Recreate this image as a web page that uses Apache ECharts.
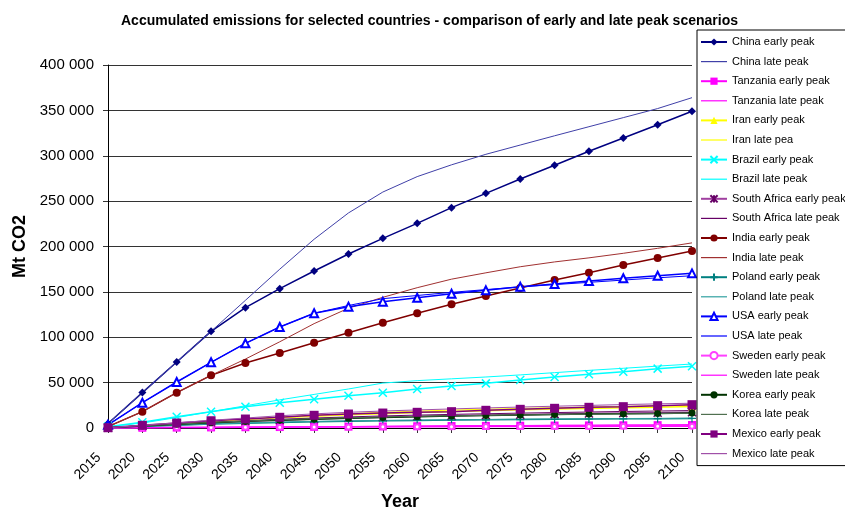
<!DOCTYPE html>
<html>
<head>
<meta charset="utf-8">
<script src="https://cdn.jsdelivr.net/npm/echarts@6/dist/echarts.min.js"></script>
<style>
  html, body { margin: 0; padding: 0; background: #fff; }
  #chart { width: 845px; height: 512px; }
</style>
</head>
<body>
<div id="chart"></div>
<script>
var years = ['2015','2020','2025','2030','2035','2040','2045','2050','2055','2060','2065','2070','2075','2080','2085','2090','2095','2100'];

// accumulated emissions, Mt CO2
var chinaEarly = [5000, 39000, 72700, 106500, 132600, 153500, 173000, 191700, 209000, 225500, 242800, 258600, 274400, 289500, 304900, 319600, 334200, 349000];
var chinaLate = [5000, 39000, 72700, 106500, 140700, 175000, 208000, 237000, 260000, 277000, 290000, 301600, 311800, 322000, 332000, 342000, 352000, 364000];
var tanzaniaEarly = [50, 250, 450, 650, 850, 1050, 1280, 1500, 1720, 1950, 2150, 2350, 2520, 2700, 2850, 3000, 3150, 3300];
var tanzaniaLate = [50, 260, 480, 700, 920, 1150, 1380, 1600, 1830, 2050, 2260, 2460, 2650, 2830, 3000, 3160, 3320, 3480];
var iranEarly = [300, 2600, 5000, 7300, 9300, 11200, 13000, 14500, 15800, 17000, 18100, 19100, 20000, 20800, 21600, 22300, 23000, 23600];
var iranLate = [300, 2600, 5100, 7600, 9900, 12000, 14000, 15800, 17300, 18600, 19700, 20700, 21600, 22400, 23100, 23800, 24400, 25000];
var brazilEarly = [1500, 6300, 12500, 18000, 23500, 27900, 31600, 35600, 38900, 43000, 46300, 49200, 52900, 56200, 59200, 62000, 65400, 68000];
var brazilLate = [1500, 5500, 11500, 18000, 24500, 31000, 37000, 43000, 49500, 52200, 54200, 56200, 58500, 61000, 63500, 65800, 68200, 70500];
var southAfricaEarly = [250, 2200, 4100, 5900, 7400, 8800, 10000, 11000, 11900, 12700, 13400, 14100, 14700, 15300, 15900, 16400, 16900, 17400];
var southAfricaLate = [250, 2200, 4200, 6200, 8000, 9600, 11000, 12200, 13300, 14200, 15000, 15700, 16400, 17000, 17600, 18200, 18700, 19200];
var indiaEarly = [1500, 18000, 38900, 58000, 71600, 82600, 94000, 105000, 116000, 126400, 136300, 145400, 154300, 163000, 171000, 179600, 187300, 195000];
var indiaLate = [1500, 18000, 38900, 58000, 76000, 95000, 115000, 132000, 144000, 154600, 164000, 171000, 177700, 183000, 187500, 192500, 198000, 204000];
var polandEarly = [200, 1700, 3100, 4300, 5300, 6100, 6800, 7400, 7900, 8300, 8700, 9000, 9300, 9600, 9900, 10100, 10300, 10500];
var polandLate = [200, 1700, 3200, 4500, 5600, 6500, 7200, 7800, 8300, 8700, 9100, 9400, 9700, 9950, 10200, 10400, 10600, 10800];
var usaEarly = [3500, 27900, 50700, 72400, 93300, 111300, 126400, 133700, 139200, 143600, 148000, 151700, 155700, 158700, 162000, 165000, 167800, 170400];
var usaLate = [3500, 27900, 50700, 72400, 93300, 111300, 126400, 135000, 142500, 146000, 149500, 152500, 155500, 158000, 160500, 163000, 165500, 167800];
var swedenEarly = [50, 300, 500, 650, 800, 920, 1050, 1150, 1250, 1350, 1440, 1520, 1600, 1680, 1750, 1820, 1890, 1950];
var swedenLate = [50, 300, 520, 700, 860, 1000, 1130, 1250, 1360, 1460, 1550, 1640, 1720, 1800, 1870, 1940, 2010, 2070];
var koreaEarly = [300, 2300, 4200, 5900, 7300, 8600, 9700, 10700, 11600, 12400, 13100, 13700, 14300, 14800, 15300, 15700, 16100, 16500];
var koreaLate = [300, 2300, 4300, 6100, 7700, 9100, 10300, 11300, 12100, 12800, 13400, 13900, 14400, 14800, 15200, 15600, 15900, 16200];
var mexicoEarly = [300, 3000, 5500, 8000, 9900, 11800, 14000, 15400, 16500, 17300, 18000, 19500, 20600, 21700, 22800, 23500, 24600, 25700];
var mexicoLate = [300, 3000, 5700, 8500, 11000, 13500, 15600, 17300, 18700, 19900, 21000, 22100, 23100, 24000, 24900, 25800, 26600, 27300];

var yTicks = [0, 50000, 100000, 150000, 200000, 250000, 300000, 350000, 400000];

var FONT = 'Arial, "Liberation Sans", sans-serif';
var X_MARK = 'path://M0,0L10,10M10,0L0,10';
var PLUS_MARK = 'path://M5,0L5,10M0,5L10,5';
var STAR_MARK = 'path://M0,0L10,10M10,0L0,10M5,0L5,10';
var LINE_ICON = 'path://M0,0L26,0L26,1.2L0,1.2Z';

function early(name, data, color, symbol, size, extra) {
    var s = {
        name: name, type: 'line', data: data,
        symbol: symbol, symbolSize: size, showSymbol: true,
        lineStyle: { color: color, width: 1.5 },
        itemStyle: { color: color, borderColor: color, borderWidth: 0 },
        emphasis: { disabled: true },
        animation: false
    };
    if (extra) {
        if (extra.line) s.lineStyle.color = extra.line;
        if (extra.stroke) s.itemStyle.borderWidth = extra.stroke;
    }
    return s;
}
function late(name, data, color) {
    return {
        name: name, type: 'line', data: data,
        symbol: 'none',
        lineStyle: { color: color, width: 1 },
        itemStyle: { color: color },
        emphasis: { disabled: true },
        animation: false
    };
}

var series = [
    early('China early peak', chinaEarly, '#000080', 'diamond', 8),
    late('China late peak', chinaLate, '#4040a8'),
    early('Tanzania early peak', tanzaniaEarly, '#ff00ff', 'rect', 8),
    late('Tanzania late peak', tanzaniaLate, '#ff00ff'),
    early('Iran early peak', iranEarly, '#ffff00', 'triangle', 8),
    late('Iran late pea', iranLate, '#ffff00'),
    early('Brazil early peak', brazilEarly, '#00ffff', X_MARK, 8, { stroke: 1.5 }),
    late('Brazil late peak', brazilLate, '#00ffff'),
    early('South Africa early peak', southAfricaEarly, '#660066', STAR_MARK, 8, { stroke: 1.5, line: '#a040a0' }),
    late('South Africa late peak', southAfricaLate, '#660066'),
    early('India early peak', indiaEarly, '#800000', 'circle', 8),
    late('India late peak', indiaLate, '#a03030'),
    early('Poland early peak', polandEarly, '#008080', PLUS_MARK, 8, { stroke: 1.2 }),
    late('Poland late peak', polandLate, '#30a0a0'),
    early('USA early peak', usaEarly, '#0000ff', 'emptyTriangle', 8, { stroke: 1.2 }),
    late('USA late peak', usaLate, '#0000ff'),
    early('Sweden early peak', swedenEarly, '#ff40ff', 'emptyCircle', 5, { stroke: 1.5 }),
    late('Sweden late peak', swedenLate, '#ff00ff'),
    early('Korea early peak', koreaEarly, '#003300', 'circle', 7),
    late('Korea late peak', koreaLate, '#507050'),
    early('Mexico early peak', mexicoEarly, '#800080', 'rect', 9),
    late('Mexico late peak', mexicoLate, '#a050a8')
];

var legendData = series.map(function (s) {
    return s.symbol === 'none' ? { name: s.name, icon: LINE_ICON } : { name: s.name };
});

var myChart = echarts.init(document.getElementById('chart'));
myChart.setOption({
    backgroundColor: '#fff',
    title: {
        text: 'Accumulated emissions for selected countries - comparison of early and late peak scenarios',
        left: 116, top: 9,
        textStyle: { fontFamily: FONT, fontSize: 14, fontWeight: 'bold', color: '#000' }
    },
    legend: {
        orient: 'vertical',
        left: 697, top: 30,
        padding: [6, 40, 6, 3],
        itemWidth: 26, itemHeight: 9, itemGap: 7.6,
        borderColor: '#000', borderWidth: 1, borderRadius: 0,
        backgroundColor: '#fff',
        textStyle: { fontFamily: FONT, fontSize: 11, color: '#000', lineHeight: 12 },
        data: legendData
    },
    grid: { left: 108, right: 153, top: 65, bottom: 84, containLabel: false, outerBoundsMode: 'none' },
    xAxis: {
        type: 'category', data: years, boundaryGap: false,
        name: 'Year', nameLocation: 'middle', nameGap: 65,
        nameTextStyle: { fontFamily: FONT, fontSize: 18, fontWeight: 'bold', color: '#000' },
        axisLine: { lineStyle: { color: '#000', width: 1 } },
        axisTick: { show: true, length: 5, inside: false, lineStyle: { color: '#333' } },
        axisLabel: { rotate: 45, margin: 18, padding: [0, 13, 0, 0], fontFamily: FONT, fontSize: 14, color: '#000', interval: 0 },
        splitLine: { show: false }
    },
    yAxis: {
        type: 'value', min: yTicks[0], max: yTicks[yTicks.length - 1], interval: yTicks[1] - yTicks[0],
        name: 'Mt CO2', nameLocation: 'middle', nameGap: 79, nameRotate: 90,
        nameTextStyle: { fontFamily: FONT, fontSize: 18, fontWeight: 'bold', color: '#000' },
        axisLine: { show: true, lineStyle: { color: '#000', width: 1 } },
        axisTick: { show: true, length: 5, lineStyle: { color: '#333' } },
        axisLabel: {
            margin: 14, fontFamily: FONT, fontSize: 15, color: '#000',
            formatter: function (v) { return String(v).replace(/\B(?=(\d{3})+(?!\d))/g, ' '); }
        },
        splitLine: { show: true, lineStyle: { color: '#333', width: 1 } }
    },
    series: series
});
</script>
</body>
</html>
